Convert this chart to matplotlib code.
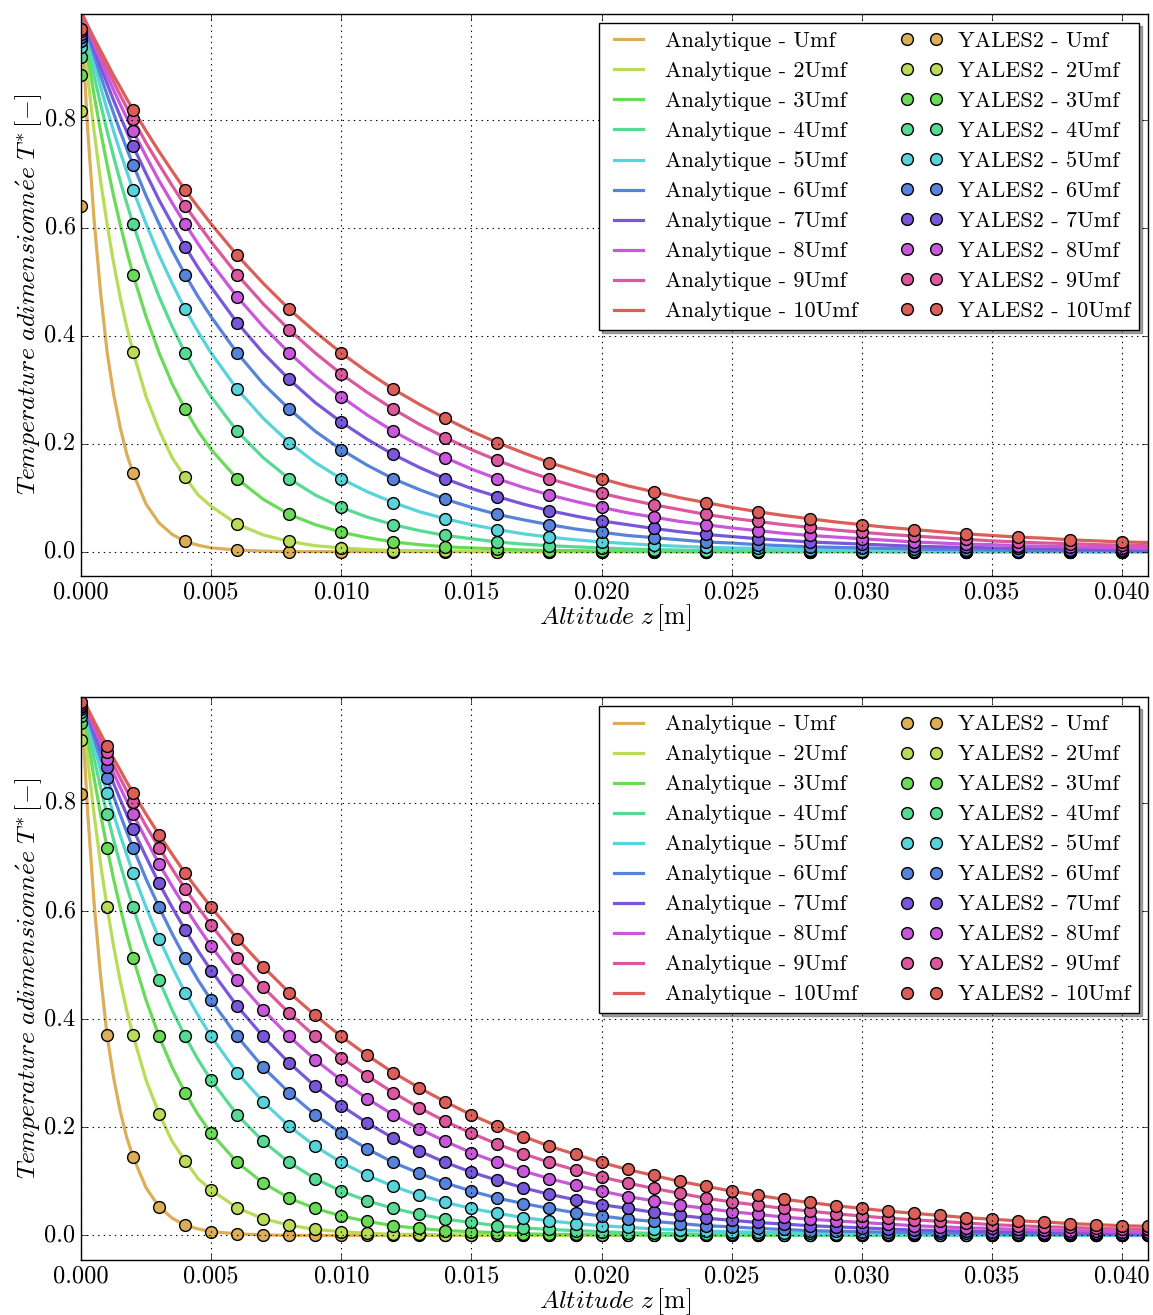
import numpy as np
import matplotlib
matplotlib.use("Agg")
import matplotlib.pyplot as plt

# altitudes (m) of the grid where curves / points were read
z_grid = np.round(np.arange(0, 0.0415, 0.001), 3)
# extra altitudes near the wall so the steep analytic curves stay smooth
z_fine = [0.00025, 0.0005, 0.00075, 0.00125, 0.0015, 0.00175, 0.0025, 0.0035, 0.0045]

names = ['Umf', '2Umf', '3Umf', '4Umf', '5Umf', '6Umf', '7Umf', '8Umf', '9Umf', '10Umf']
colors = ['#dbae57', '#b9db57', '#69db57', '#57db94', '#57d3db',
          '#5784db', '#7957db', '#c957db', '#db579e', '#db5f57']

# analytic T* read at z_grid
t_umf1 = [1.0, 0.370, 0.145, 0.053, 0.019, 0.007, 0.003, 0.001, 0.0, 0.0,
          0.0, 0.0, 0.0, 0.0, 0.0, 0.0, 0.0, 0.0, 0.0, 0.0,
          0.0, 0.0, 0.0, 0.0, 0.0, 0.0, 0.0, 0.0, 0.0, 0.0,
          0.0, 0.0, 0.0, 0.0, 0.0, 0.0, 0.0, 0.0, 0.0, 0.0,
          0.0, 0.0]
t_umf2 = [1.0, 0.607, 0.370, 0.225, 0.138, 0.084, 0.051, 0.031, 0.019, 0.011,
          0.007, 0.004, 0.002, 0.002, 0.001, 0.001, 0.0, 0.0, 0.0, 0.0,
          0.0, 0.0, 0.0, 0.0, 0.0, 0.0, 0.0, 0.0, 0.0, 0.0,
          0.0, 0.0, 0.0, 0.0, 0.0, 0.0, 0.0, 0.0, 0.0, 0.0,
          0.0, 0.0]
t_umf3 = [1.0, 0.717, 0.513, 0.368, 0.264, 0.189, 0.135, 0.097, 0.069, 0.050,
          0.036, 0.026, 0.018, 0.013, 0.009, 0.007, 0.005, 0.003, 0.002, 0.002,
          0.001, 0.001, 0.001, 0.0, 0.0, 0.0, 0.0, 0.0, 0.0, 0.0,
          0.0, 0.0, 0.0, 0.0, 0.0, 0.0, 0.0, 0.0, 0.0, 0.0,
          0.0, 0.0]
t_umf4 = [1.0, 0.779, 0.607, 0.472, 0.368, 0.287, 0.223, 0.174, 0.135, 0.105,
          0.082, 0.064, 0.050, 0.039, 0.030, 0.024, 0.018, 0.014, 0.011, 0.009,
          0.007, 0.005, 0.004, 0.003, 0.002, 0.002, 0.002, 0.001, 0.001, 0.001,
          0.001, 0.0, 0.0, 0.0, 0.0, 0.0, 0.0, 0.0, 0.0, 0.0,
          0.0, 0.0]
t_umf5 = [1.0, 0.819, 0.670, 0.549, 0.449, 0.368, 0.301, 0.247, 0.202, 0.165,
          0.135, 0.111, 0.091, 0.074, 0.061, 0.050, 0.041, 0.033, 0.027, 0.022,
          0.018, 0.015, 0.012, 0.010, 0.008, 0.007, 0.006, 0.005, 0.004, 0.003,
          0.002, 0.002, 0.002, 0.001, 0.001, 0.001, 0.001, 0.001, 0.001, 0.0,
          0.0, 0.0]
t_umf6 = [1.0, 0.846, 0.717, 0.607, 0.513, 0.435, 0.368, 0.311, 0.264, 0.223,
          0.189, 0.160, 0.135, 0.115, 0.097, 0.082, 0.069, 0.059, 0.050, 0.042,
          0.036, 0.030, 0.026, 0.022, 0.018, 0.016, 0.013, 0.011, 0.009, 0.008,
          0.007, 0.006, 0.005, 0.004, 0.004, 0.003, 0.002, 0.002, 0.002, 0.002,
          0.001, 0.001]
t_umf7 = [1.0, 0.867, 0.751, 0.651, 0.565, 0.490, 0.424, 0.368, 0.319, 0.276,
          0.240, 0.208, 0.180, 0.156, 0.135, 0.117, 0.102, 0.088, 0.076, 0.066,
          0.057, 0.050, 0.043, 0.037, 0.032, 0.028, 0.024, 0.021, 0.018, 0.016,
          0.014, 0.012, 0.010, 0.009, 0.008, 0.007, 0.006, 0.005, 0.004, 0.004,
          0.003, 0.003]
t_umf8 = [1.0, 0.882, 0.779, 0.687, 0.607, 0.535, 0.472, 0.417, 0.368, 0.325,
          0.287, 0.253, 0.223, 0.197, 0.174, 0.153, 0.135, 0.119, 0.105, 0.093,
          0.082, 0.072, 0.064, 0.056, 0.050, 0.044, 0.039, 0.034, 0.030, 0.027,
          0.024, 0.021, 0.018, 0.016, 0.014, 0.013, 0.011, 0.010, 0.009, 0.008,
          0.007, 0.006]
t_umf9 = [1.0, 0.895, 0.801, 0.717, 0.641, 0.574, 0.513, 0.459, 0.411, 0.368,
          0.329, 0.295, 0.264, 0.236, 0.211, 0.189, 0.169, 0.151, 0.135, 0.121,
          0.108, 0.097, 0.087, 0.078, 0.069, 0.062, 0.056, 0.050, 0.045, 0.040,
          0.036, 0.032, 0.029, 0.026, 0.023, 0.020, 0.018, 0.016, 0.015, 0.013,
          0.012, 0.011]
t_umf10 = [1.0, 0.905, 0.819, 0.741, 0.670, 0.607, 0.549, 0.497, 0.449, 0.407,
           0.368, 0.333, 0.301, 0.273, 0.247, 0.223, 0.202, 0.183, 0.165, 0.150,
           0.135, 0.122, 0.111, 0.100, 0.091, 0.082, 0.074, 0.067, 0.061, 0.055,
           0.050, 0.045, 0.041, 0.037, 0.033, 0.030, 0.027, 0.025, 0.022, 0.020,
           0.018, 0.017]

# analytic T* at z_fine
f_umf1 = [0.785, 0.615, 0.480, 0.292, 0.231, 0.182, 0.088, 0.032, 0.012]
f_umf2 = [0.882, 0.779, 0.687, 0.535, 0.472, 0.417, 0.287, 0.174, 0.105]
f_umf3 = [0.920, 0.846, 0.779, 0.659, 0.607, 0.558, 0.435, 0.311, 0.223]
f_umf4 = [0.939, 0.882, 0.829, 0.732, 0.687, 0.646, 0.535, 0.417, 0.325]
f_umf5 = [0.951, 0.905, 0.861, 0.779, 0.741, 0.705, 0.607, 0.497, 0.407]
f_umf6 = [0.959, 0.920, 0.882, 0.812, 0.779, 0.747, 0.659, 0.558, 0.472]
f_umf7 = [0.965, 0.931, 0.898, 0.836, 0.807, 0.779, 0.700, 0.607, 0.526]
f_umf8 = [0.969, 0.939, 0.911, 0.855, 0.829, 0.804, 0.732, 0.646, 0.570]
f_umf9 = [0.973, 0.946, 0.920, 0.870, 0.846, 0.823, 0.757, 0.678, 0.607]
f_umf10 = [0.975, 0.951, 0.928, 0.882, 0.861, 0.839, 0.779, 0.705, 0.638]

# YALES2 value of the first point (z = 0) in each panel
first_top = [0.640, 0.817, 0.883, 0.916, 0.935, 0.946, 0.953, 0.959, 0.964, 0.969]
first_bottom = [0.817, 0.917, 0.947, 0.961, 0.968, 0.973, 0.977, 0.980, 0.983, 0.986]

t_all = [t_umf1, t_umf2, t_umf3, t_umf4, t_umf5, t_umf6, t_umf7, t_umf8, t_umf9, t_umf10]
f_all = [f_umf1, f_umf2, f_umf3, f_umf4, f_umf5, f_umf6, f_umf7, f_umf8, f_umf9, f_umf10]

plt.style.use('classic')
plt.rcParams['font.family'] = 'serif'
plt.rcParams['font.serif'] = ['cmr10']
plt.rcParams['mathtext.fontset'] = 'cm'
plt.rcParams['axes.formatter.use_mathtext'] = True
plt.rcParams['figure.facecolor'] = 'white'
plt.rcParams['savefig.facecolor'] = 'white'

FS_TICK = 17.5
FS_LABEL = 18.5
FS_LEG = 16

fig = plt.figure(figsize=(11.53, 13.15), dpi=100)
ax_top = fig.add_axes([0.0703, 0.5620, 0.9254, 0.4274])
ax_bot = fig.add_axes([0.0703, 0.0420, 0.9254, 0.4280])

z_line = np.concatenate([z_grid, z_fine])
order = np.argsort(z_line)

for ax, step, first in [(ax_top, 2, first_top), (ax_bot, 1, first_bottom)]:
    for t, f, c, n in zip(t_all, f_all, colors, names):
        vals = np.concatenate([t, f])
        ax.plot(z_line[order], vals[order], color=c, lw=2.3,
                label='Analytique - ' + n)
    for i, (t, c, n) in enumerate(zip(t_all, colors, names)):
        zp = np.concatenate([[0.0], z_grid[step::step]])
        tp = np.concatenate([[first[i]], np.array(t)[step::step]])
        ax.plot(zp, tp, 'o', color=c, mec='k', mew=1, ms=8.5,
                label='YALES2 - ' + n)

    ax.set_xlim(0, 0.041)
    ax.set_ylim(-0.045, 0.996)
    ax.set_xticks(np.arange(0, 0.0401, 0.005))
    ax.set_xticklabels(['%.3f' % v for v in np.arange(0, 0.0401, 0.005)])
    ax.set_yticks([0.0, 0.2, 0.4, 0.6, 0.8])
    ax.set_yticklabels(['0.0', '0.2', '0.4', '0.6', '0.8'])
    ax.tick_params(labelsize=FS_TICK)
    ax.grid(True, color='k', linestyle=':', linewidth=0.8)
    ax.set_xlabel(r'$Altitude\ z\,[\mathrm{m}]$', fontsize=FS_LABEL, labelpad=-1)
    ax.set_ylabel(r'$Temperature\ adimensionn\acute{e}e\ T^{*}\,[-]$',
                  fontsize=FS_LABEL, labelpad=0)
    ax.legend(loc='upper right', ncol=2, numpoints=2, shadow=True,
              fontsize=FS_LEG, labelspacing=0.47, handlelength=1.9,
              handletextpad=0.7, columnspacing=1.9, borderpad=0.4,
              borderaxespad=0.4)

plt.savefig('out.png', dpi=100)
